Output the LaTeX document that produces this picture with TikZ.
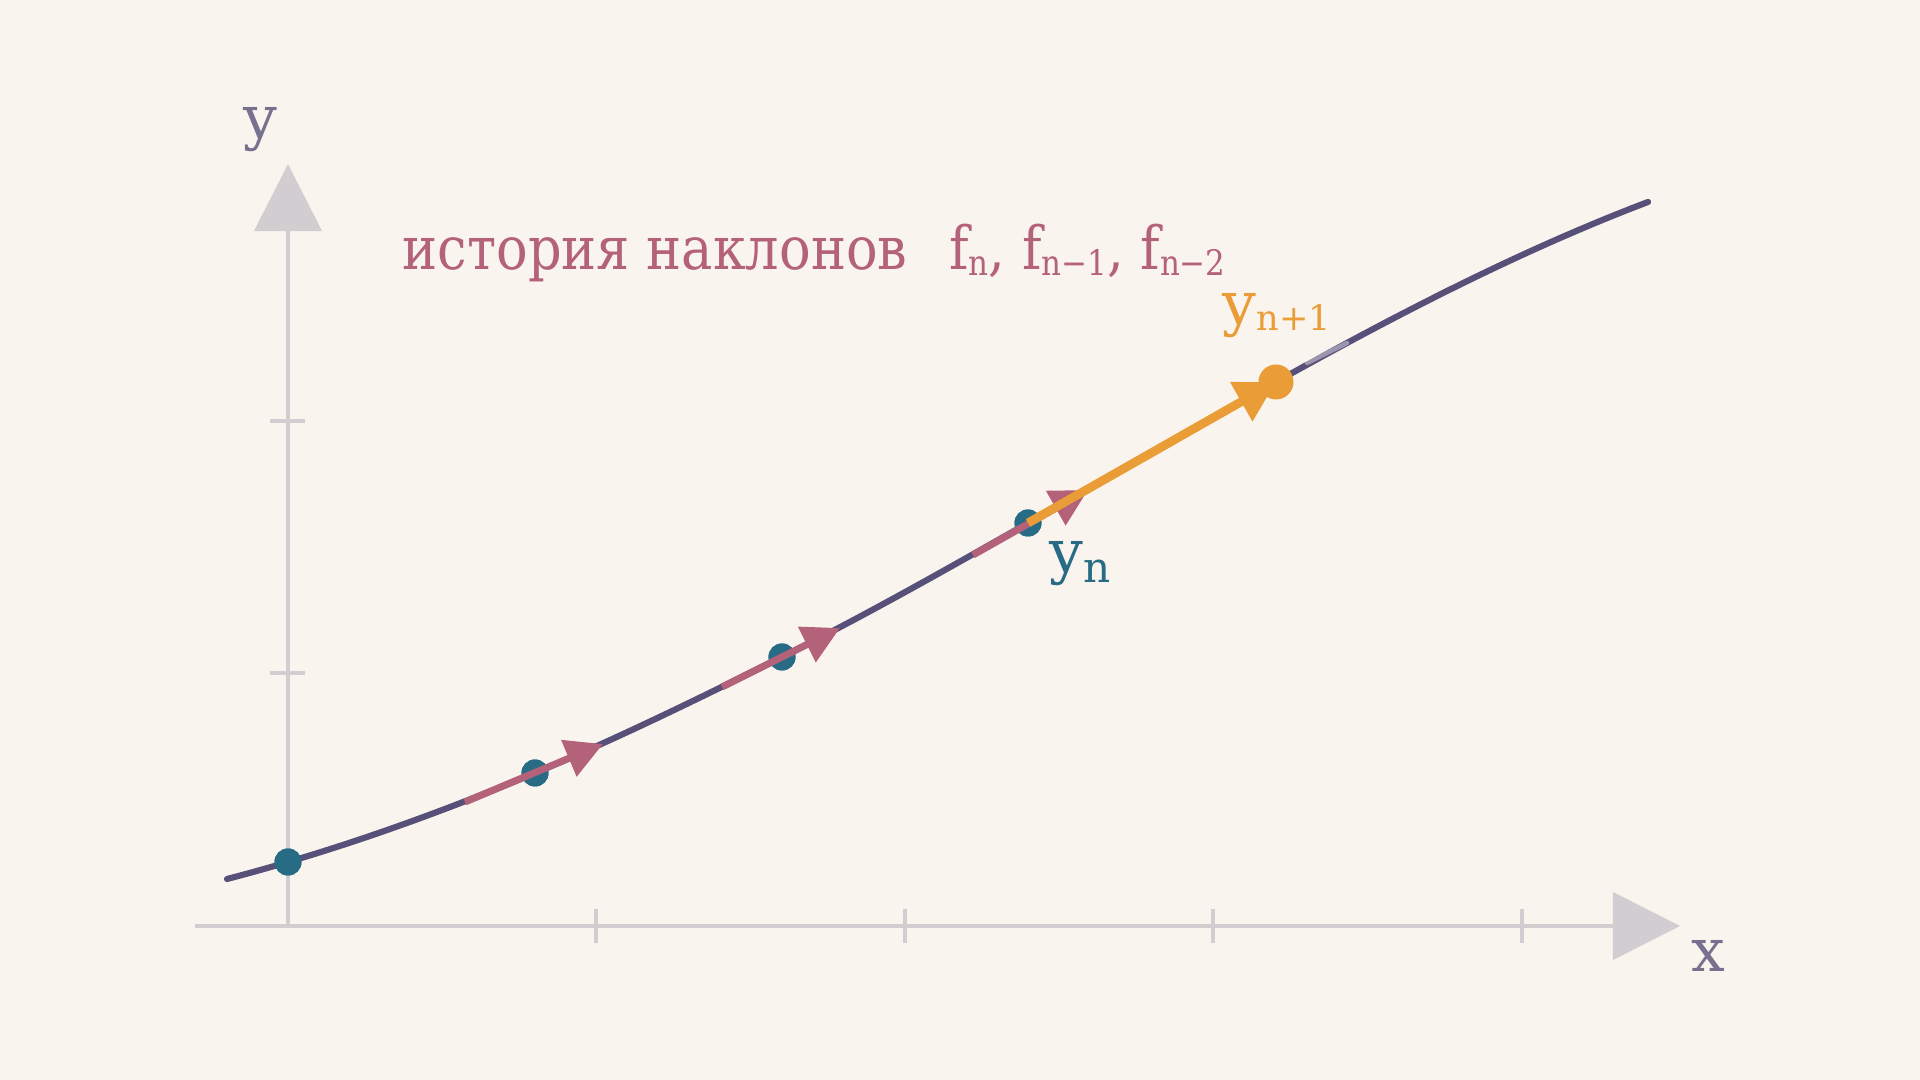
\documentclass[tikz,border=0pt]{standalone}
\usepackage{fontspec}
\setmainfont{DejaVu Serif}
\newfontfamily\titlefont[FakeStretch=0.88]{DejaVu Serif}
\usetikzlibrary{arrows.meta}
\definecolor{bgcol}{HTML}{FAF4EE}
\definecolor{axisgray}{HTML}{D1CDD1}
\definecolor{curvecol}{HTML}{575079}
\definecolor{tealcol}{HTML}{276B84}
\definecolor{pinkcol}{HTML}{B4617A}
\definecolor{orangecol}{HTML}{EA9D36}
\definecolor{labelcol}{HTML}{77708F}
\newcommand{\lowsub}[3]{\raisebox{-#1}{\fontsize{#2}{#2}\selectfont #3}}
\begin{document}
\begin{tikzpicture}
  [x=0.01cm,y=-0.01cm,
   axis/.style={draw=axisgray,line width=1.15pt,-{Triangle[length=6.7mm,width=6.7mm]}},
   tick/.style={draw=axisgray,line width=1pt},
   curve/.style={draw=curvecol,line width=1.75pt,line cap=round},
   dot/.style={circle,fill=tealcol,inner sep=0pt,minimum size=2.7mm},
   slope/.style={draw=pinkcol,line width=2pt,-{Triangle[length=3.7mm,width=3.8mm]}},
   newslope/.style={draw=orangecol,line width=2.5pt,-{Triangle[length=4mm,width=4.3mm]}},
   lbl/.style={inner sep=0pt,anchor=base west,font=\fontsize{17}{20}\selectfont}]
  \fill[bgcol] (0,0) rectangle (1920,1080);
  \useasboundingbox (0,0) rectangle (1920,1080);
  % axes
  \coordinate (o) at (288,926);
  \coordinate (xs) at (195,926);
  \coordinate (xe) at (1680,926);
  \coordinate (ye) at (288,164);
  \draw[axis] (xs)--(xe);
  \draw[axis] (o)--(ye);
  \foreach \x in {596,905,1213,1522} \draw[tick] (\x,909)--(\x,943);
  \foreach \y in {421,673} \draw[tick] (270,\y)--(305,\y);
  \node[lbl,text=labelcol,name=ylab] at (243,139) {y};
  \node[lbl,text=labelcol,name=xlab] at (1691,972) {x};
  % solution curve
  \node[dot,name=d0] at (288,862) {};
  \node[dot,name=d1] at (535,773) {};
  \node[dot,name=d2] at (782,657) {};
  \node[dot,name=d3] at (1028,523) {};
  \coordinate (dn) at (1276,382);
  \coordinate (cs) at (227,879);
  \coordinate (ce) at (1648,202);
  \draw[curve] (cs) .. controls (329.7,852.3) and (432.3,816.1) .. (d1.center)
    .. controls (617.3,738.4) and (699.7,698.2) .. (d2.center)
    .. controls (864,616) and (946,569.7) .. (d3.center)
    .. controls (1110.7,475.9) and (1193.3,428.3) .. (dn)
    .. controls (1400,312.6) and (1524,249.1) .. (ce);
  \foreach \n in {0,1,2,3} \node[dot] at (d\n) {};
  % slopes
  \coordinate (s1) at (465,802); \coordinate (t1) at (603,744);
  \coordinate (s2) at (722,687); \coordinate (t2) at (840,628);
  \coordinate (s3) at (973,555); \coordinate (t3) at (1088,490);
  \draw[slope] (s1)--(t1);
  \draw[slope] (s2)--(t2);
  \draw[slope] (s3)--(t3);
  \draw[newslope] (d3.center)--(dn);
  \node[circle,fill=orangecol,inner sep=0pt,minimum size=3.5mm,name=ynext] at (dn) {};
  \draw[white,opacity=0.4,line width=1.3pt,line cap=round] (1307,363)--(1347,343);
  % labels
  \node[lbl,text=pinkcol,name=hist] at (402,270)
    {\titlefont история наклонов\hspace{0.7em}f\lowsub{1.7pt}{10pt}{n}, f\lowsub{1.7pt}{10pt}{n−1}, f\lowsub{1.7pt}{10pt}{n−2}};
  \node[lbl,text=tealcol,name=yn] at (1049,573) {y\lowsub{2.8pt}{12pt}{n}};
  \node[lbl,text=orangecol,name=yn1] at (1222,325) {y\lowsub{1.5pt}{10pt}{n+1}};
\end{tikzpicture}
\end{document}
